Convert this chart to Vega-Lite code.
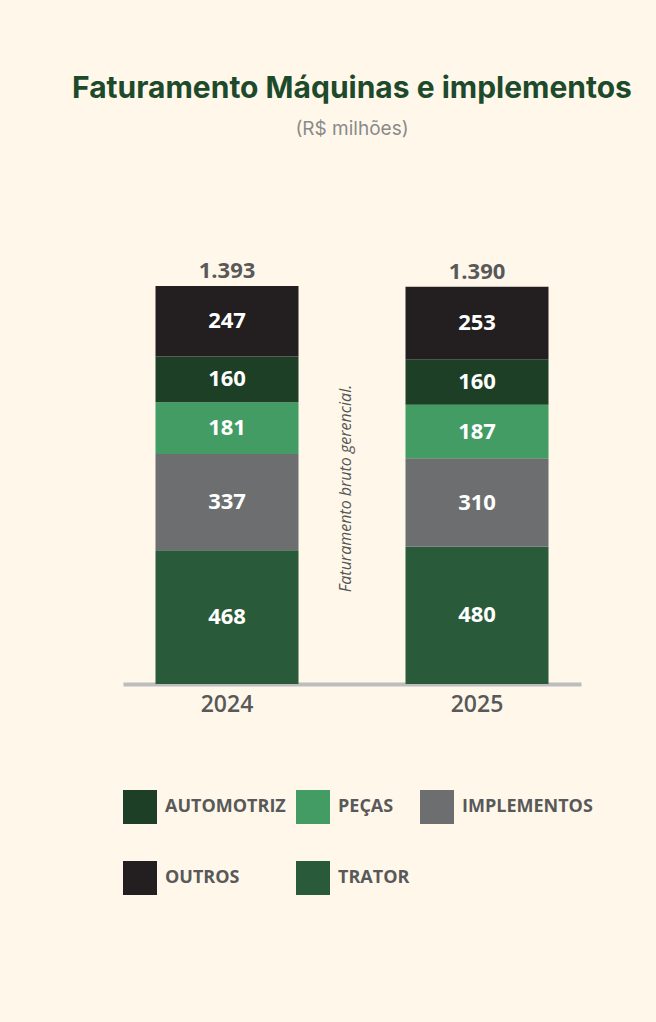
{
  "$schema": "https://vega.github.io/schema/vega-lite/v6.json",
  "autosize": "none",
  "width": 458,
  "height": 398,
  "padding": {"left": 123, "top": 286, "right": 75, "bottom": 338},
  "background": "#FFF8EA",
  "config": {"view": {"stroke": null}},
  "title": {
    "text": "Faturamento Máquinas e implementos",
    "subtitle": "(R$ milhões)",
    "anchor": "middle",
    "font": "Inter",
    "fontSize": 30,
    "fontWeight": 700,
    "color": "#1E4A2C",
    "subtitleFont": "Inter",
    "subtitleFontSize": 19,
    "subtitleColor": "#8A8A8A",
    "subtitlePadding": 16,
    "offset": 121
  },
  "datasets": {
    "segs": [
      {"ano": "2024", "tipo": "TRATOR", "ord": 1, "valor": 468},
      {"ano": "2024", "tipo": "IMPLEMENTOS", "ord": 2, "valor": 337},
      {"ano": "2024", "tipo": "PEÇAS", "ord": 3, "valor": 181},
      {"ano": "2024", "tipo": "AUTOMOTRIZ", "ord": 4, "valor": 160},
      {"ano": "2024", "tipo": "OUTROS", "ord": 5, "valor": 247},
      {"ano": "2025", "tipo": "TRATOR", "ord": 1, "valor": 480},
      {"ano": "2025", "tipo": "IMPLEMENTOS", "ord": 2, "valor": 310},
      {"ano": "2025", "tipo": "PEÇAS", "ord": 3, "valor": 187},
      {"ano": "2025", "tipo": "AUTOMOTRIZ", "ord": 4, "valor": 160},
      {"ano": "2025", "tipo": "OUTROS", "ord": 5, "valor": 253}
    ],
    "totais": [
      {"ano": "2024", "total": 1393, "rotulo": "1.393"},
      {"ano": "2025", "total": 1390, "rotulo": "1.390"}
    ],
    "nota": [
      {"texto": "Faturamento bruto gerencial.", "pos": 684}
    ]
  },
  "layer": [
    {
      "data": {"name": "segs"},
      "mark": {"type": "bar", "strokeWidth": 0},
      "encoding": {
        "x": {
          "field": "ano", "type": "nominal",
          "scale": {"paddingInner": 0.428, "paddingOuter": 0.13},
          "axis": {
            "title": null, "ticks": false, "domainColor": "#BDBDBD", "domainWidth": 4,
            "labelAngle": 0, "labelFont": "Open Sans", "labelFontSize": 23, "labelFontWeight": 600,
            "labelColor": "#595959", "labelPadding": 9
          }
        },
        "y": {
          "field": "valor", "type": "quantitative", "stack": "zero",
          "scale": {"domain": [0, 1393], "nice": false}, "axis": null
        },
        "order": {"field": "ord"},
        "color": {
          "field": "tipo", "type": "nominal",
          "scale": {
            "domain": ["AUTOMOTRIZ", "PEÇAS", "IMPLEMENTOS", "OUTROS", "TRATOR"],
            "range": ["#1C3F26", "#429C63", "#6D6E70", "#231F20", "#295B3B"]
          },
          "legend": {
            "title": null, "orient": "none", "legendX": 0, "legendY": 504,
            "direction": "horizontal", "columns": 3, "padding": 0,
            "symbolType": "square", "symbolSize": 1156, "symbolStrokeWidth": 0, "symbolOpacity": 1,
            "labelFont": "Open Sans", "labelFontSize": 18, "labelFontWeight": "bold", "labelColor": "#595959",
            "labelOffset": 8, "columnPadding": 10, "rowPadding": 37, "labelLimit": 300
          }
        }
      }
    },
    {
      "data": {"name": "segs"},
      "mark": {"type": "text", "color": "white", "font": "Open Sans", "fontSize": 22, "fontWeight": "bold", "baseline": "middle"},
      "encoding": {
        "x": {"field": "ano", "type": "nominal"},
        "y": {"field": "valor", "type": "quantitative", "stack": "zero", "bandPosition": 0.5},
        "order": {"field": "ord"},
        "text": {"field": "valor", "type": "quantitative"}
      }
    },
    {
      "data": {"name": "totais"},
      "mark": {"type": "text", "color": "#595959", "font": "Open Sans", "fontSize": 22, "fontWeight": "bold", "baseline": "bottom", "dy": -3},
      "encoding": {
        "x": {"field": "ano", "type": "nominal"},
        "y": {"field": "total", "type": "quantitative"},
        "text": {"field": "rotulo", "type": "nominal"}
      }
    },
    {
      "data": {"name": "nota"},
      "mark": {"type": "text", "angle": 270, "color": "#555555", "font": "Open Sans", "fontSize": 16, "fontStyle": "italic", "baseline": "middle", "align": "center",
        "x": {"expr": "width/2 - 6"}},
      "encoding": {
        "y": {"field": "pos", "type": "quantitative"},
        "text": {"field": "texto", "type": "nominal"}
      }
    }
  ]
}
